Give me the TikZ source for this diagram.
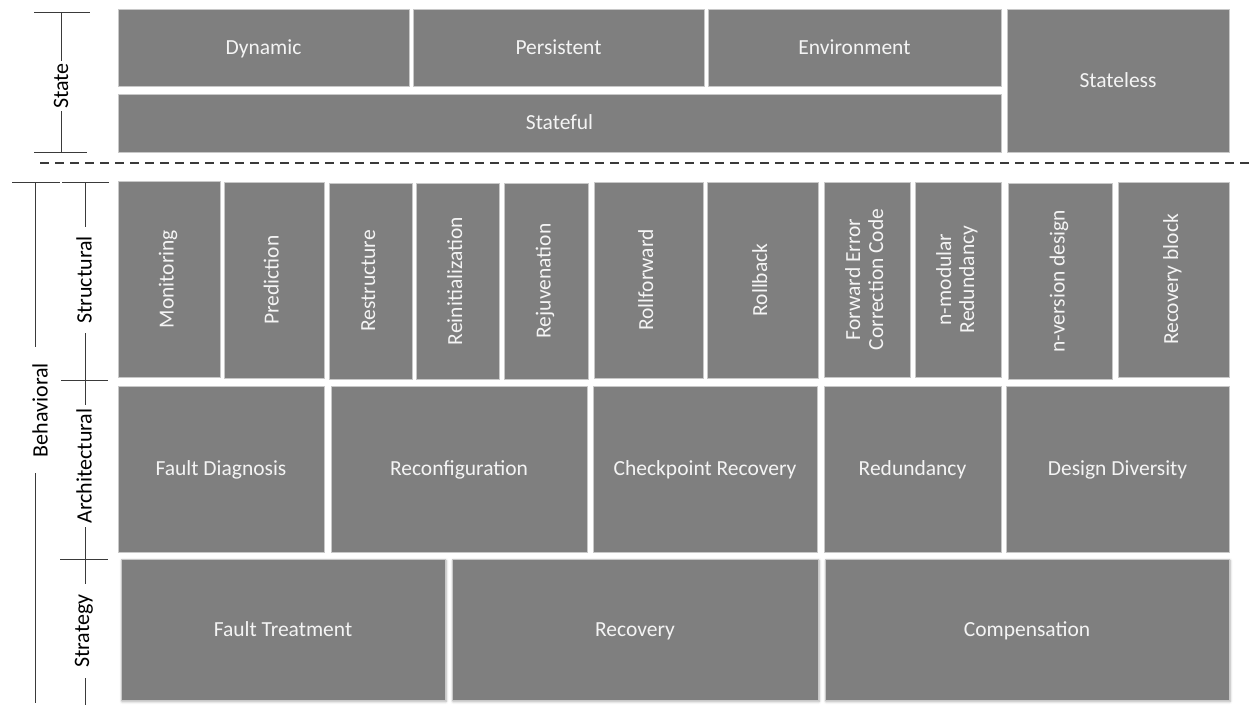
\documentclass[tikz,border=0pt]{standalone}
\usepackage{fontspec}
\setmainfont{Carlito}
\usetikzlibrary{shadows.blur}
\definecolor{boxgray}{HTML}{7F7F7F}
\definecolor{boxedge}{HTML}{C8C8C8}
\definecolor{boxtext}{HTML}{F4F4F4}
\definecolor{axisline}{HTML}{3A3A3A}
\tikzset{
  box/.style={draw=boxedge, line width=0.8pt, fill=boxgray, text=boxtext,
    inner sep=0pt, outer sep=0pt, align=center,
    font=\fontsize{21.5}{23}\selectfont},
  hbox/.style={box, text height=13pt, text depth=-1pt},
  shadowbox/.style={hbox, blur shadow={shadow xshift=1pt, shadow yshift=-1.5pt,
    shadow blur radius=2.5pt, shadow opacity=35}},
  axislbl/.style={fill=white, inner sep=2pt, rotate=90, text=black,
    font=\fontsize{22}{24}\selectfont},
  axis/.style={draw=axisline, line width=0.9pt},
  sep/.style={draw=axisline, line width=1.6pt, dash pattern=on 9pt off 6pt}
}
\newcommand\bx[7][hbox]{\node[#1, minimum width={#5-#3}, minimum height={#6-#4}]
  (#2) at ({(#3+#5)/2},{(#4+#6)/2}) {#7};}
\newcommand\rt[1]{\rotatebox{90}{\begin{tabular}{@{}c@{}}#1\end{tabular}}}
\begin{document}
\begin{tikzpicture}[x=1pt,y=-1pt]
\useasboundingbox (0,0) rectangle (1249,705);
% ---- State layer
\bx{dyn}{118}{9}{409}{86}{Dynamic}
\bx{per}{413}{9}{704}{86}{Persistent}
\bx{env}{708}{9}{1001}{86}{Environment}
\bx{sful}{118}{94}{1001}{152}{Stateful}
\bx{sless}{1007}{9}{1229}{152}{Stateless}
% ---- separator
\coordinate (sepL) at (40,163);
\coordinate (sepR) at (1249,163);
\draw[sep] (sepL) -- (sepR);
% ---- Structural layer
\bx[box]{mon}{118}{181}{220}{377}{\rt{Monitoring}}
\bx[box]{pred}{224}{182}{324}{378}{\rt{Prediction}}
\bx[box]{rest}{329}{183}{412}{379}{\rt{Restructure}}
\bx[box]{reinit}{416}{183}{499}{379}{\rt{Reinitialization}}
\bx[box]{rejuv}{504}{183}{588}{379}{\rt{Rejuvenation}}
\bx[box]{rfwd}{594}{182}{703}{378}{\rt{Rollforward}}
\bx[box]{rback}{707}{182}{818}{378}{\rt{Rollback}}
\bx[box]{fec}{824}{182}{910}{377}{\rt{Forward Error\\Correction Code}}
\bx[box]{nmr}{915}{182}{1001}{377}{\rt{n-modular\\Redundancy}}
\bx[box]{nvd}{1008}{183}{1112}{379}{\rt{n-version design}}
\bx[box]{rblk}{1118}{182}{1229}{377}{\rt{Recovery block}}
% ---- Architectural layer
\bx{fdiag}{118}{386}{324}{552}{Fault Diagnosis}
\bx{reconf}{331}{386}{587}{552}{Reconfiguration}
\bx{ckpt}{593}{386}{817}{552}{Checkpoint Recovery}
\bx{redund}{824}{386}{1001}{552}{Redundancy}
\bx{ddiv}{1006}{386}{1229}{552}{Design Diversity}
% ---- Strategy layer
\bx[shadowbox]{ftreat}{121}{559}{445}{700}{Fault Treatment}
\bx[shadowbox]{recov}{452}{559}{818}{700}{Recovery}
\bx[shadowbox]{comp}{825}{559}{1229}{700}{Compensation}
% ---- axis: State
\coordinate (sT1) at (34,12); \coordinate (sT2) at (90,12);
\coordinate (sB1) at (34,152); \coordinate (sB2) at (87,152);
\coordinate (sTop) at (61,12); \coordinate (sBot) at (61,152);
\draw[axis] (sT1) -- (sT2);
\draw[axis] (sB1) -- (sB2);
\draw[axis] (sTop) -- (sBot);
\node[axislbl] (lstate) at (61,86) {State};
% ---- axis: Behavioral
\coordinate (bT1) at (12,182); \coordinate (bT2) at (60,182);
\coordinate (bTop) at (35,182); \coordinate (bBot) at (35,703);
\draw[axis] (bT1) -- (bT2);
\draw[axis] (bTop) -- (bBot);
\node[axislbl, inner ysep=1pt, inner xsep=16pt] (lbeh) at (40,410) {Behavioral};
% ---- axis: Structural / Architectural / Strategy
\coordinate (stT1) at (62,182); \coordinate (stT2) at (109,182);
\coordinate (aT1) at (61,380); \coordinate (aT2) at (108,380);
\coordinate (gT1) at (60,559); \coordinate (gT2) at (108,559);
\coordinate (vTop) at (85,182); \coordinate (vBot) at (85,705);
\draw[axis] (stT1) -- (stT2);
\draw[axis] (aT1) -- (aT2);
\draw[axis] (gT1) -- (gT2);
\draw[axis] (vTop) -- (vBot);
\node[axislbl, inner xsep=9pt] (lstruct) at (84,280) {Structural};
\node[axislbl, inner xsep=3pt] (larch) at (84,466) {Architectural};
\node[axislbl, inner xsep=10pt] (lstrat) at (84,631) {Strategy};
\end{tikzpicture}
\end{document}
